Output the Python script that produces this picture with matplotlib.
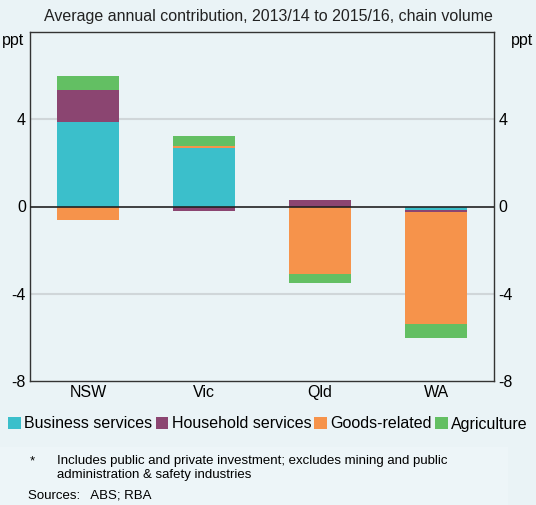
import numpy as np
import matplotlib
matplotlib.use("Agg")
import matplotlib.pyplot as plt
from matplotlib.patches import Patch, Rectangle

plt.rcParams['font.family'] = ['Liberation Sans', 'DejaVu Sans']

states = ["NSW", "Vic", "Qld", "WA"]
series = ["Business services", "Household services", "Goods-related", "Agriculture"]
business = [3.87, 2.66, 0.0, -0.17]
household = [1.47, -0.21, 0.28, -0.10]
goods = [-0.64, 0.10, -3.10, -5.10]
agriculture = [0.66, 0.46, -0.42, -0.64]
colors = ["#3bbfcb", "#8b4571", "#f6934b", "#63bf63"]

bg = "#eaf3f6"
fig = plt.figure(figsize=(5.36, 5.05), dpi=100, facecolor=bg)
ax = fig.add_axes([30 / 536, 1 - 381 / 505, 464 / 536, 349 / 505])
ax.set_facecolor(bg)

x = np.arange(len(states))
pos_base = np.zeros(len(states))
neg_base = np.zeros(len(states))
for vals, col in zip([business, household, goods, agriculture], colors):
    vals = np.array(vals)
    pos = np.where(vals > 0, vals, 0)
    neg = np.where(vals < 0, vals, 0)
    ax.bar(x, pos, 0.53, bottom=pos_base, color=col, zorder=3)
    ax.bar(x, neg, 0.53, bottom=neg_base, color=col, zorder=3)
    pos_base += pos
    neg_base += neg

ax.set_xlim(-0.5, 3.5)
ax.set_ylim(-8, 8)
for g in [-4, 4]:
    ax.axhline(g, color="#d0d6d9", lw=1.5, zorder=1)
ax.axhline(0, color="#222222", lw=1.2, zorder=4)

ax.set_yticks([-8, -4, 0, 4])
ax.set_yticklabels(["-8", "-4", "0", "4"])
ax.tick_params(axis="y", length=0, labelsize=11.5, pad=3, labelright=True, right=False)
ax.set_xticks(x)
ax.set_xticklabels(states)
ax.tick_params(axis="x", length=0, labelsize=11.5, pad=3)
for s in ax.spines.values():
    s.set_color("#333333")
    s.set_linewidth(1.0)

fig.text(0.5, 1 - 17 / 505, "Average annual contribution, 2013/14 to 2015/16, chain volume",
         ha="center", va="center", fontsize=11.5, color="#222222")
fig.text(2 / 536, 1 - 41 / 505, "ppt", ha="left", va="center", fontsize=11.5)
fig.text(533 / 536, 1 - 41 / 505, "ppt", ha="right", va="center", fontsize=11.5)

handles = [Patch(facecolor=c, label=s) for c, s in zip(colors, series)]
fig.legend(handles=handles, loc="center", bbox_to_anchor=(0.5, 1 - 424 / 505), ncol=4,
           frameon=False, fontsize=11.5, handlelength=0.8, handleheight=0.8,
           handletextpad=0.2, columnspacing=0.2, borderaxespad=0, borderpad=0)

fig.patches.append(Rectangle((0, 0), 508 / 536, 58 / 505, transform=fig.transFigure,
                             facecolor="#edf5f8", edgecolor="none", zorder=0))
fig.text(30 / 536, 1 - 461 / 505, "*", ha="left", va="center", fontsize=9.5)
fig.text(57 / 536, 1 - 468 / 505,
         "Includes public and private investment; excludes mining and public\n"
         "administration & safety industries",
         ha="left", va="center", fontsize=9.5, linespacing=1.25)
fig.text(28 / 536, 1 - 495 / 505, "Sources:   ABS; RBA", ha="left", va="center", fontsize=9.5)

fig.savefig("out.png", dpi=100, facecolor=bg)
